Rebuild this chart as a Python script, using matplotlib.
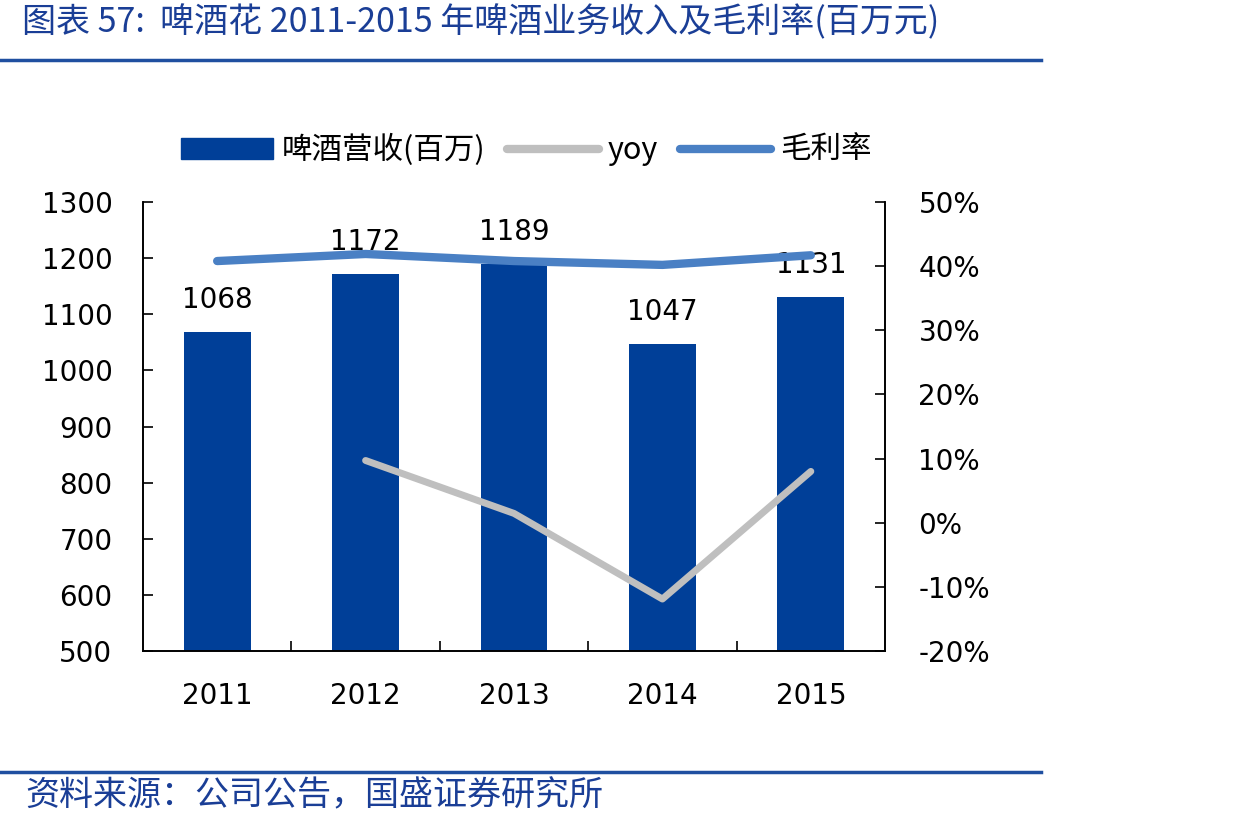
import numpy as np
import matplotlib
matplotlib.use("Agg")
import matplotlib.pyplot as plt
from matplotlib.lines import Line2D
from matplotlib.patches import Patch

plt.rcParams['font.family'] = ['DejaVu Sans', 'Noto Sans CJK SC']

### data
years = ['2011', '2012', '2013', '2014', '2015']
revenue = [1068, 1172, 1189, 1047, 1131]          # 啤酒营收(百万)
yoy = [np.nan, 0.097, 0.0145, -0.119, 0.080]      # yoy
gross_margin = [0.408, 0.419, 0.408, 0.402, 0.417]  # 毛利率

### colors
BAR_C = '#003F98'
GM_C = '#4A80C4'
YOY_C = '#BFBFBF'
RULE_C = '#1F4FA0'
CJK = ['Noto Sans CJK SC', 'DejaVu Sans']

fig = plt.figure(figsize=(12.42, 8.26), dpi=100)
ax = fig.add_axes([0.1151, 0.2119, 0.5975, 0.5435])
ax2 = ax.twinx()

x = np.arange(len(years))
ax.bar(x, [r - 500 for r in revenue], bottom=500, width=0.45, color=BAR_C, zorder=2)
for xi, r in zip(x, revenue):
    ax.annotate(str(r), (xi, r), xytext=(0, 23), textcoords='offset points',
                ha='center', va='center', fontsize=20, zorder=5)

ax.set_xlim(-0.5, len(years) - 0.5)
ax.set_ylim(500, 1300)
ax.set_yticks(np.arange(500, 1301, 100))
ax.set_xticks(x)
ax.set_xticklabels(years)
ax.set_xticks(np.arange(0.5, len(years) - 1, 1), minor=True)
ax.tick_params(axis='x', which='major', length=0, pad=22, labelsize=20)
ax.tick_params(axis='x', which='minor', direction='in', length=7, width=1.2)
ax.tick_params(axis='y', direction='in', length=7, width=1.2, pad=22, labelsize=20)

ax2.plot(x, yoy, color=YOY_C, lw=5, solid_capstyle='round', zorder=3)
ax2.plot(x, gross_margin, color=GM_C, lw=6, solid_capstyle='round', zorder=3)
ax2.set_ylim(-0.2, 0.5)
ax2.set_yticks(np.arange(-0.2, 0.51, 0.1))
ax2.set_yticklabels([f'{v:.0f}%' for v in np.arange(-20, 51, 10)])
ax2.tick_params(axis='y', direction='in', length=7, width=1.2, pad=24, labelsize=20)

for a in (ax, ax2):
    a.spines['top'].set_visible(False)
    for s in ('left', 'right', 'bottom'):
        a.spines[s].set_linewidth(1.2)

# legend
handles = [Patch(color=BAR_C),
           Line2D([], [], color=YOY_C, lw=6, solid_capstyle='round'),
           Line2D([], [], color=GM_C, lw=6, solid_capstyle='round')]
labels = ['啤酒营收(百万)', 'yoy', '毛利率']
fig.legend(handles, labels, loc='center', bbox_to_anchor=(0.424, 0.818), ncol=3,
           frameon=False, handlelength=3.0, handletextpad=0.3, columnspacing=0.7,
           prop={'family': CJK, 'size': 22})

# title, rules, source
fig.text(0.018, 0.973, '图表 57:  啤酒花 2011-2015 年啤酒业务收入及毛利率(百万元)',
         family=CJK, fontsize=24.5, color='#1A3E96', va='center', ha='left')
fig.add_artist(Line2D([0, 0.838], [0.927, 0.927], color=RULE_C, lw=2.5))
fig.add_artist(Line2D([0, 0.838], [0.065, 0.065], color=RULE_C, lw=2.5))
fig.text(0.02, 0.037, '资料来源：公司公告，国盛证券研究所',
         family=CJK, fontsize=24.5, color='#1A3E96', va='center', ha='left')

fig.savefig('out.png', dpi=100)
